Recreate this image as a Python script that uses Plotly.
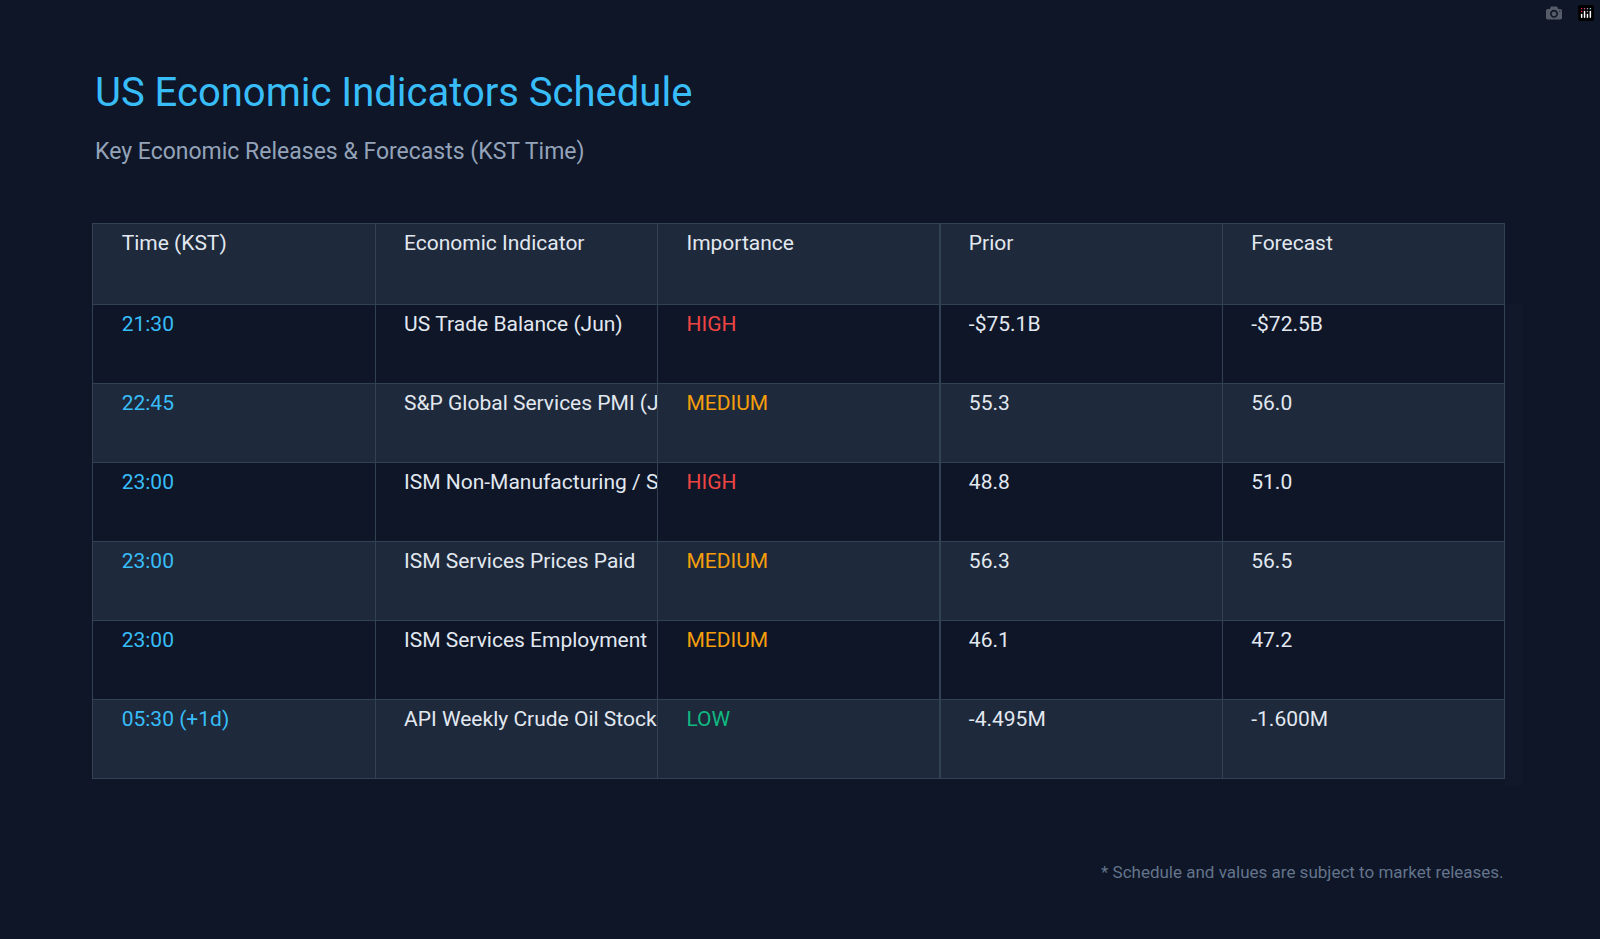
import plotly.graph_objects as go

headers = ["Time (KST)", "Economic Indicator", "Importance", "Prior", "Forecast"]
times = ["21:30", "22:45", "23:00", "23:00", "23:00", "05:30 (+1d)"]
indicators = [
    "US Trade Balance (Jun)",
    "S&P Global Services PMI (Jul)",
    "ISM Non-Manufacturing / Services PMI (Jul)",
    "ISM Services Prices Paid",
    "ISM Services Employment",
    "API Weekly Crude Oil Stock",
]
importance = ["HIGH", "MEDIUM", "HIGH", "MEDIUM", "MEDIUM", "LOW"]
prior = ["-$75.1B", "55.3", "48.8", "56.3", "46.1", "-4.495M"]
forecast = ["-$72.5B", "56.0", "51.0", "56.5", "47.2", "-1.600M"]

BG = "#0e1628"
ROW_A = "#0e1628"
ROW_B = "#1e293b"
LINE = "#334155"
LEVEL_COLORS = {"HIGH": "#ef4444", "MEDIUM": "#f59e0b", "LOW": "#10b981"}
FONT = "Roboto, Inter, sans-serif"

pad = "\u00a0" * 4


def padded(values):
    # leading break fakes vertical centring, nbsp stops wrapping so long names get clipped
    return ["<br>" + pad + v.replace(" ", "\u00a0") for v in values]


row_fill = [ROW_A if i % 2 == 0 else ROW_B for i in range(len(times))]
text_col = "#e2e8f0"

fig = go.Figure(go.Table(
    domain=dict(x=[0.058, 0.941], y=[0.162, 0.7625]),
    columnwidth=[1, 1, 1, 1, 1],
    header=dict(
        values=padded(headers),
        fill_color=ROW_B,
        line_color=LINE,
        align="left",
        height=81,
        font=dict(family=FONT, size=21, color="#e2e8f0"),
    ),
    cells=dict(
        values=[padded(times), padded(indicators), padded(importance), padded(prior), padded(forecast)],
        fill_color=[row_fill] * 5,
        line_color=LINE,
        align="left",
        height=79,
        font=dict(
            family=FONT,
            size=21,
            color=[
                ["#38bdf8"] * len(times),
                [text_col] * len(times),
                [LEVEL_COLORS[v] for v in importance],
                [text_col] * len(times),
                [text_col] * len(times),
            ],
        ),
    ),
))

fig.update_layout(
    width=1600,
    height=939,
    paper_bgcolor=BG,
    plot_bgcolor=BG,
    margin=dict(l=0, r=0, t=0, b=0),
)

fig.add_annotation(text="US Economic Indicators Schedule", x=0.058, y=1 - 92 / 939,
                   xref="paper", yref="paper", xanchor="left", yanchor="middle", showarrow=False,
                   font=dict(family=FONT, size=40, color="#38bdf8"))
fig.add_annotation(text="Key Economic Releases & Forecasts (KST Time)", x=0.058, y=1 - 152 / 939,
                   xref="paper", yref="paper", xanchor="left", yanchor="middle", showarrow=False,
                   font=dict(family=FONT, size=23, color="#94a3b8"))
fig.add_annotation(text="* Schedule and values are subject to market releases.", x=0.941,
                   y=1 - 872 / 939, xref="paper", yref="paper", xanchor="right", yanchor="middle",
                   showarrow=False,
                   font=dict(family=FONT, size=17, color="#64748b"))

fig.write_html(
    "out.html",
    post_script="document.body.style.margin='0';document.body.style.background='#0e1628';",
)
